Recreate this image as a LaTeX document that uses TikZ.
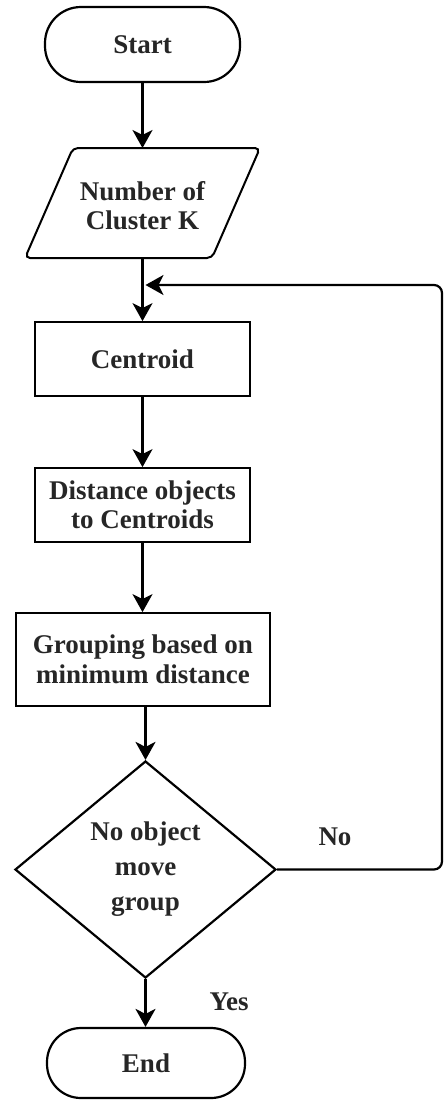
\documentclass[tikz,border=0pt]{standalone}
\usepackage{fontspec}
\setmainfont{Liberation Serif}
\usetikzlibrary{arrows.meta,shapes.geometric}
\begin{document}
\begin{tikzpicture}[x=1pt,y=-1pt,
  line width=2pt,
  txt/.style={font=\bfseries\fontsize{27}{29}\selectfont, align=center, text=black!85},
  term/.style={txt, draw, line width=2.2pt, rounded corners=36pt, minimum width=195pt, minimum height=75pt, inner sep=0pt},
  box/.style={txt, draw, line width=1.8pt, minimum width=215pt, minimum height=74pt, inner sep=0pt},
  arr/.style={line width=2.2pt, -{Stealth[length=18pt,width=20pt,inset=5pt]}},
]
\useasboundingbox (0,0) rectangle (445,1101);

% Start
\node[term] (start) at (142.5,44.5) {Start};

% Parallelogram input
\draw[line width=2pt, rounded corners=5pt] (73,148) -- (260,148) -- (212,258) -- (25,258) -- cycle;
\node[txt] (par) at (142.5,206) {Number of\\Cluster K};
\coordinate (parT) at (142.5,148);
\coordinate (parB) at (142.5,258);

% Process boxes
\node[box] (cen) at (142.5,359) {Centroid};
\node[box] (dist) at (142.5,505) {Distance objects\\to Centroids};
\node[box, minimum width=254pt, minimum height=93pt, font=\bfseries\fontsize{27}{30}\selectfont] (grp) at (143,659.5) {Grouping based on\\minimum distance};

% Decision
\node[txt, diamond, draw, line width=2.2pt, minimum width=261pt, minimum height=217pt, inner sep=0pt, aspect=1.2, font=\bfseries\fontsize{27}{35}\selectfont] (dec) at (145.5,869.5) {No object\\move\\group};

% End
\node[term, minimum width=198pt, minimum height=70pt, rounded corners=34pt] (end) at (146,1063) {End};

% Connectors
\coordinate (loopin) at (145.5,285);
\draw[arr] (start) -- (parT);
\draw[arr] (parB) -- (cen);
\draw[arr] (cen) -- (dist);
\draw[arr] (dist.south) -- (dist.south |- grp.north);
\draw[arr] (grp.south -| dec.north) -- (dec.north);
\draw[arr] (dec.south) -- (dec.south |- end.north);
\draw[arr, rounded corners=8pt] (dec.east) -- (442,869.5) -- (442,285) -- (loopin);

% Labels
\node[txt] (no) at (335,837) {No};
\node[txt] (yes) at (229,1002) {Yes};
\end{tikzpicture}
\end{document}
